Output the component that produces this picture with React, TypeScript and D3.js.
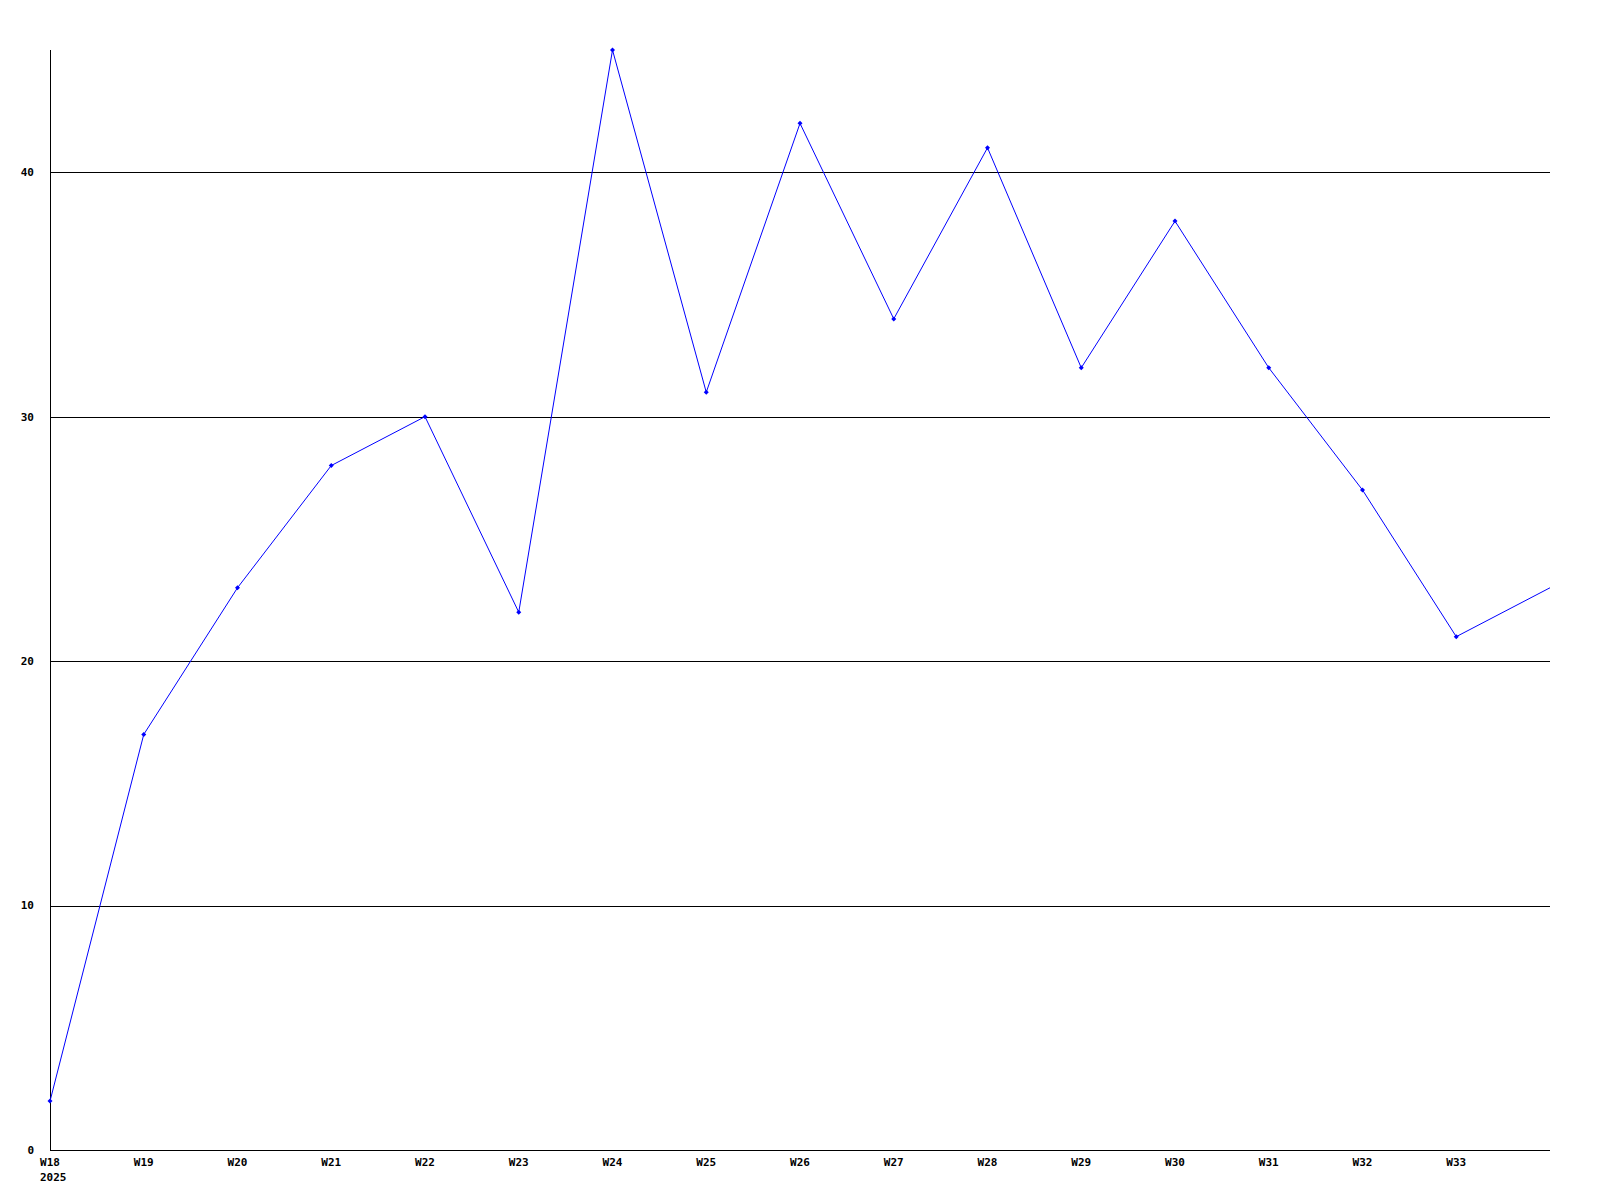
import React from "react";
import * as d3 from "d3";

const weeks = ["W18","W19","W20","W21","W22","W23","W24","W25","W26","W27","W28","W29","W30","W31","W32","W33","W34"];
const values = [2,17,23,28,30,22,45,31,42,34,41,32,38,32,27,21,23];
const yTicks = [0,10,20,30,40];
const yearLabel = "2025";

export default function App() {
  const W = 1600, H = 1200;
  const left = 50, right = 1550, top = 50, bottom = 1150;
  const x = d3.scaleLinear().domain([0, weeks.length - 1]).range([left, right]);
  const y = d3.scaleLinear().domain([0, 45]).range([bottom, top]);
  const line = d3.line<number>().x((_, i) => x(i)).y(d => y(d));
  const font = "'DejaVu Sans Mono', monospace";
  return (
    <svg width={W} height={H} style={{ position: "absolute", left: 0, top: 0, background: "#fff" }}>
      <rect x={0} y={0} width={W} height={H} fill="#fff" />
      {yTicks.filter(t => t > 0).map(t => (
        <line key={t} x1={left} x2={right} y1={Math.round(y(t)) + 0.5} y2={Math.round(y(t)) + 0.5} stroke="#000" strokeWidth={1} shapeRendering="crispEdges" />
      ))}
      <line x1={left + 0.5} x2={left + 0.5} y1={top} y2={bottom} stroke="#000" strokeWidth={1} shapeRendering="crispEdges" />
      <line x1={left} x2={right} y1={bottom + 0.5} y2={bottom + 0.5} stroke="#000" strokeWidth={1} shapeRendering="crispEdges" />
      {yTicks.map(t => (
        <text key={t} x={34} y={y(t)} dy="0.35em" textAnchor="end" fontFamily={font} fontWeight="bold" fontSize={11} fill="#000">{t}</text>
      ))}
      {weeks.slice(0, weeks.length - 1).map((w, i) => (
        <text key={w} x={x(i)} y={1162} dy="0.35em" textAnchor="middle" fontFamily={font} fontWeight="bold" fontSize={11} fill="#000">{w}</text>
      ))}
      <text x={40} y={1177} dy="0.35em" textAnchor="start" fontFamily={font} fontWeight="bold" fontSize={11} fill="#000">{yearLabel}</text>
      <path d={line(values) || ""} fill="none" stroke="#0000ff" strokeWidth={1} />
      {values.slice(0, values.length - 1).map((v, i) => (
        <path key={i} d={`M${x(i)},${y(v) - 2.5}L${x(i) + 2.5},${y(v)}L${x(i)},${y(v) + 2.5}L${x(i) - 2.5},${y(v)}Z`} fill="#0000ff" />
      ))}
    </svg>
  );
}
